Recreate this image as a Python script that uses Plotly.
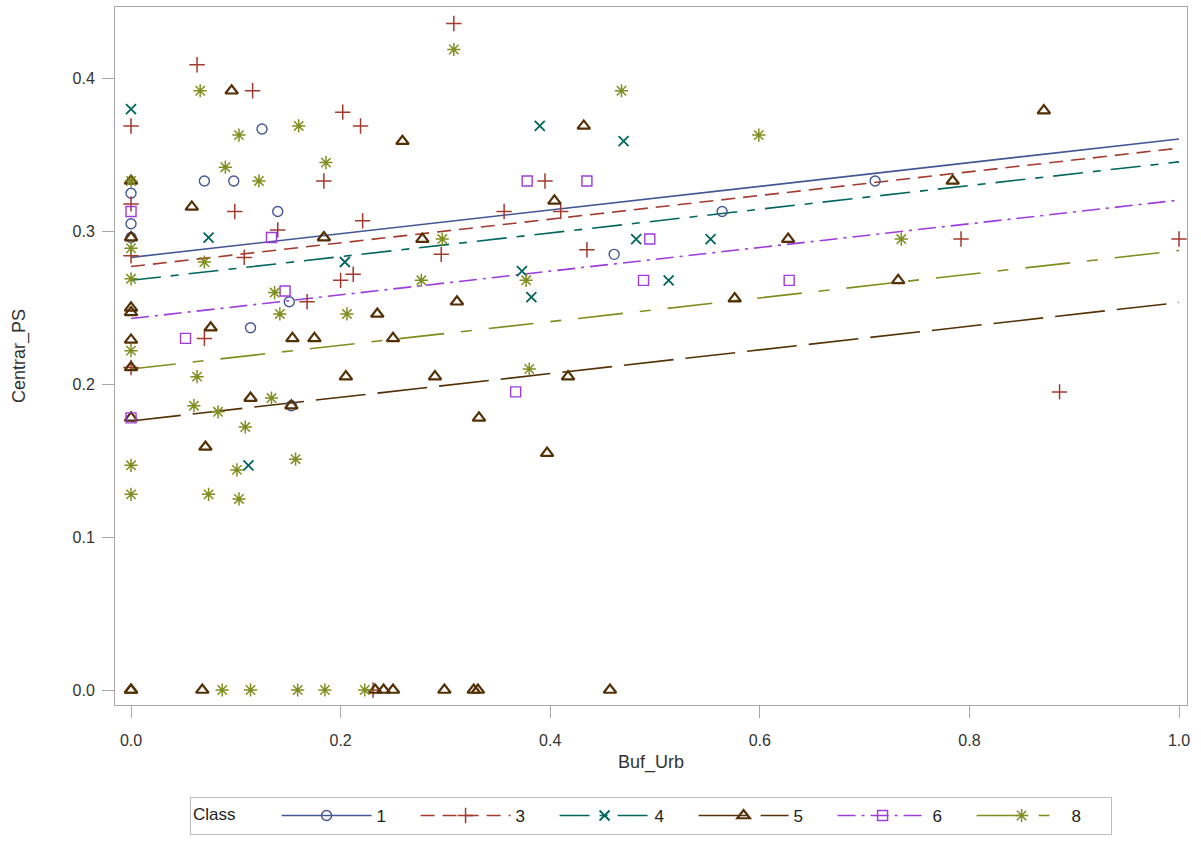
import plotly.graph_objects as go

# ---------------- data ----------------
CLASSES = ["1", "3", "4", "5", "6", "8"]

buf_urb_c1 = [0, 0, 0, 0.070, 0.098, 0.125, 0.140, 0.151, 0.114, 0.153, 0.461, 0.564, 0.710]
centrar_c1 = [0.325, 0.305, 0.296, 0.333, 0.333, 0.367, 0.313, 0.254, 0.237, 0.186, 0.285, 0.313, 0.333]

buf_urb_c3 = [0, 0.063, 0.116, 0.202, 0.219, 0.184, 0.099, 0.140, 0.108, 0.200, 0.212, 0.221,
              0.168, 0.070, 0, 0, 0, 0.231, 0.308, 0.395, 0.356, 0.410, 0.296, 0.435, 0.792,
              1.000, 0.886]
centrar_c3 = [0.369, 0.409, 0.392, 0.378, 0.369, 0.333, 0.313, 0.301, 0.283, 0.268, 0.272, 0.307,
              0.254, 0.230, 0.318, 0.284, 0.211, 0.000, 0.436, 0.333, 0.313, 0.313, 0.285, 0.288,
              0.295, 0.295, 0.195]

buf_urb_c4 = [0, 0.074, 0.204, 0.112, 0.390, 0.470, 0.482, 0.373, 0.382, 0.513, 0.553]
centrar_c4 = [0.380, 0.296, 0.280, 0.147, 0.369, 0.359, 0.295, 0.274, 0.257, 0.268, 0.295]

buf_urb_c5 = [0.096, 0.259, 0.432, 0.058, 0, 0, 0, 0, 0, 0, 0, 0.184, 0.076, 0.154, 0.175,
              0.205, 0.114, 0.153, 0.071, 0.235, 0.250, 0.278, 0.311, 0.290, 0.417, 0.332,
              0.397, 0.404, 0.576, 0.627, 0.732, 0.784, 0.871,
              0, 0, 0.068, 0.233, 0.241, 0.250, 0.299, 0.327, 0.331, 0.457]
centrar_c5 = [0.392, 0.359, 0.369, 0.316, 0.333, 0.296, 0.250, 0.247, 0.229, 0.211, 0.178,
              0.296, 0.237, 0.230, 0.230, 0.205, 0.191, 0.186, 0.159, 0.246, 0.230, 0.295,
              0.254, 0.205, 0.205, 0.178, 0.155, 0.320, 0.256, 0.295, 0.268, 0.333, 0.379,
              0, 0, 0, 0, 0, 0, 0, 0, 0, 0]

buf_urb_c6 = [0, 0, 0.134, 0.147, 0.052, 0.378, 0.435, 0.495, 0.489, 0.367, 0.628]
centrar_c6 = [0.313, 0.178, 0.296, 0.261, 0.230, 0.333, 0.333, 0.295, 0.268, 0.195, 0.268]

buf_urb_c8 = [0.066, 0.160, 0.103, 0.186, 0.090, 0.122, 0, 0, 0.070, 0, 0.137, 0.142, 0.206,
              0, 0.063, 0.060, 0.083, 0.134, 0.109, 0, 0.101, 0.157, 0, 0.074, 0.103, 0.308,
              0.468, 0.297, 0.277, 0.377, 0.380, 0.599, 0.735,
              0.087, 0.114, 0.159, 0.185, 0.223]
centrar_c8 = [0.392, 0.369, 0.363, 0.345, 0.342, 0.333, 0.333, 0.289, 0.280, 0.269, 0.260,
              0.246, 0.246, 0.222, 0.205, 0.186, 0.182, 0.191, 0.172, 0.147, 0.144, 0.151,
              0.128, 0.128, 0.125, 0.419, 0.392, 0.295, 0.268, 0.268, 0.210, 0.363, 0.295,
              0, 0, 0, 0, 0]

# fitted parallel regression lines: intercept per class, common slope
fit_intercept = [0.283, 0.277, 0.268, 0.176, 0.243, 0.210]
fit_slope = 0.0775

x_ticks = [0.0, 0.2, 0.4, 0.6, 0.8, 1.0]
y_ticks = [0.0, 0.1, 0.2, 0.3, 0.4]

# ---------------- styles ----------------
COLORS = ["#445694", "#A23A2E", "#01665E", "#543005", "#9D3CDB", "#7F8E1F"]
SYMBOLS = ["circle-open", "cross-thin-open", "x-thin-open", "triangle-up-open",
           "square-open", "asterisk-open"]
SIZES = [10, 11, 10, 11, 10, 11]
MLW = [1.4, 1.5, 1.8, 2.2, 1.4, 1.5]
DASHES = ["solid", "14px,8px", "30px,10px,8px,10px", "50px,12px",
          "18px,6px,3px,6px", "45px,17px,11px,17px"]

TXT = "Liberation Sans Narrow, Liberation Sans, Arial, sans-serif"
NUM = "Liberation Sans, Arial, sans-serif"
AXIS_GRAY = "#A8A8A8"

xs = [buf_urb_c1, buf_urb_c3, buf_urb_c4, buf_urb_c5, buf_urb_c6, buf_urb_c8]
ys = [centrar_c1, centrar_c3, centrar_c4, centrar_c5, centrar_c6, centrar_c8]

all_x = [v for s in xs for v in s]
x_lo, x_hi = min(all_x), max(all_x)

fig = go.Figure()

# fit lines
for i, c in enumerate(CLASSES):
    fx = [x_lo, x_hi]
    fy = [fit_intercept[i] + fit_slope * v for v in fx]
    fig.add_trace(go.Scatter(x=fx, y=fy, mode="lines", showlegend=False,
                             line=dict(color=COLORS[i], width=1.6, dash=DASHES[i]),
                             hoverinfo="skip"))

# points
for i, c in enumerate(CLASSES):
    fig.add_trace(go.Scatter(x=xs[i], y=ys[i], mode="markers", showlegend=False,
                             name=c,
                             marker=dict(symbol=SYMBOLS[i], size=SIZES[i], color=COLORS[i],
                                         line=dict(color=COLORS[i], width=MLW[i]))))

# legend entries (line + marker)
for i, c in enumerate(CLASSES):
    fig.add_trace(go.Scatter(x=[None], y=[None], mode="lines+markers", name=c,
                             line=dict(color=COLORS[i], width=1.6, dash=DASHES[i]),
                             marker=dict(symbol=SYMBOLS[i], size=SIZES[i], color=COLORS[i],
                                         line=dict(color=COLORS[i], width=MLW[i]))))

fig.update_layout(
    width=1201, height=842,
    margin=dict(l=115, r=14, t=7, b=137),
    paper_bgcolor="white", plot_bgcolor="white",
    showlegend=True,
    legend=dict(
        orientation="h", x=0.5, xanchor="center",
        yref="container", y=0.0535, yanchor="top",
        bordercolor="#BEBEBE", borderwidth=1, bgcolor="white",
        font=dict(family=TXT, size=17, color="#222"),
        title=dict(text="Class       ", font=dict(family=TXT, size=17, color="#222"), side="left"),
        itemwidth=90, entrywidth=34, entrywidthmode="pixels",
        traceorder="normal",
    ),
    xaxis=dict(
        range=[-0.0153, 1.0076], tickvals=x_ticks, tickformat=".1f",
        showline=True, mirror=True, linecolor=AXIS_GRAY, linewidth=1,
        ticks="outside", ticklen=12, tickcolor=AXIS_GRAY, tickwidth=1,
        ticklabelstandoff=9,
        showgrid=False, zeroline=False,
        tickfont=dict(family=NUM, size=16, color="#333"),
        title=dict(text="Buf_Urb", font=dict(family=TXT, size=18, color="#333"), standoff=7),
    ),
    yaxis=dict(
        range=[-0.0098, 0.4468], tickvals=y_ticks, tickformat=".1f",
        showline=True, mirror=True, linecolor=AXIS_GRAY, linewidth=1,
        ticks="outside", ticklen=12, tickcolor=AXIS_GRAY, tickwidth=1,
        ticklabelstandoff=4,
        showgrid=False, zeroline=False,
        tickfont=dict(family=NUM, size=16, color="#333"),
        title=dict(text="Centrar_PS", font=dict(family=TXT, size=18, color="#333"), standoff=42),
    ),
)

fig.write_html("out.html")
